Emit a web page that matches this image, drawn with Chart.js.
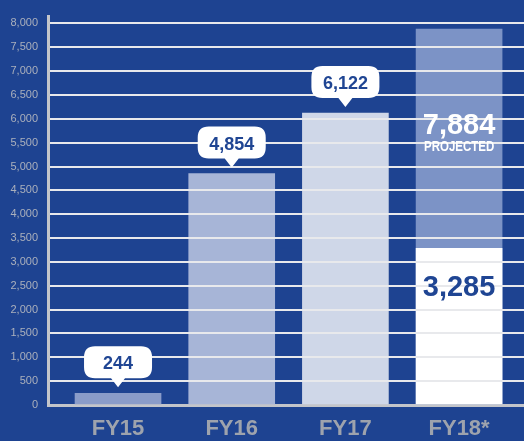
<!DOCTYPE html>
<html>
<head>
<meta charset="utf-8">
<script src="https://cdn.jsdelivr.net/npm/chart.js@4.4.0/dist/chart.umd.min.js"></script>
<style>
html, body { margin: 0; padding: 0; background: #1e4391; overflow: hidden; }
</style>
</head>
<body>
<canvas id="myBarChart" width="524" height="441"></canvas>
<script>
var years = ["FY15", "FY16", "FY17", "FY18*"];
var actual = [244, 4854, 6122, 3285];
var projected = [null, null, null, 7884];
var yTicks = [0, 500, 1000, 1500, 2000, 2500, 3000, 3500, 4000, 4500, 5000, 5500, 6000, 6500, 7000, 7500, 8000];

var barColors = ['#8a9cc9', '#a7b5d7', '#cfd7e8', '#ffffff'];
var navy = '#1f4593';
var gray = '#c3c5ca';

function fmt(v){
    return v.toLocaleString('en-US');
}

// white speech bubble with a small pointer under it
function bubble(ctx, cx, tipY, text){
    var w = 68, h = 32, r = 11, ph = 9, pw = 7;
    var x0 = cx - w / 2, x1 = cx + w / 2, y1 = tipY - ph, y0 = y1 - h;
    ctx.beginPath();
    ctx.moveTo(x0 + r, y0);
    ctx.lineTo(x1 - r, y0);
    ctx.quadraticCurveTo(x1, y0, x1, y0 + r);
    ctx.lineTo(x1, y1 - r);
    ctx.quadraticCurveTo(x1, y1, x1 - r, y1);
    ctx.lineTo(cx + pw, y1);
    ctx.lineTo(cx, tipY);
    ctx.lineTo(cx - pw, y1);
    ctx.lineTo(x0 + r, y1);
    ctx.quadraticCurveTo(x0, y1, x0, y1 - r);
    ctx.lineTo(x0, y0 + r);
    ctx.quadraticCurveTo(x0, y0, x0 + r, y0);
    ctx.closePath();
    ctx.fillStyle = '#ffffff';
    ctx.fill();
    ctx.fillStyle = navy;
    ctx.font = 'bold 18px "Liberation Sans", Arial, sans-serif';
    ctx.textAlign = 'center';
    ctx.textBaseline = 'alphabetic';
    ctx.fillText(text, cx, y1 - 9);
}

var labelPlugin = {
    id: 'labels',
    afterDraw: function(chart){
        var ctx = chart.ctx;
        var metaA = chart.getDatasetMeta(0);
        var metaP = chart.getDatasetMeta(1);
        ctx.save();
        for (var i = 0; i < actual.length; i++) {
            var bar = metaA.data[i];
            if (projected[i] == null) {
                bubble(ctx, bar.x, bar.y - 6, fmt(actual[i]));
            } else {
                var pBar = metaP.data[0];
                ctx.textAlign = 'center';
                ctx.textBaseline = 'alphabetic';
                ctx.fillStyle = '#ffffff';
                ctx.font = 'bold 29px "Liberation Sans", Arial, sans-serif';
                ctx.fillText(fmt(projected[i]), pBar.x, pBar.y + 105);
                ctx.save();
                ctx.translate(pBar.x, pBar.y + 122);
                ctx.scale(0.82, 1);
                ctx.font = 'bold 14px "Liberation Sans", Arial, sans-serif';
                ctx.fillText('PROJECTED', 0, 0);
                ctx.restore();
                ctx.fillStyle = navy;
                ctx.font = 'bold 29px "Liberation Sans", Arial, sans-serif';
                ctx.fillText(fmt(actual[i]), bar.x, bar.y + 48);
            }
        }
        ctx.restore();
    }
};

var ctx1 = document.getElementById("myBarChart");
var myBarChart = new Chart(ctx1, {
    type: 'bar',
    data: {
        datasets: [{
            label: 'Actual',
            data: actual.map(function(v, i){ return {x: i, y: v}; }),
            backgroundColor: barColors,
            barThickness: 86,
            grouped: false
        }, {
            label: 'Projected',
            data: projected.map(function(v, i){ return {x: i, y: v}; }).filter(function(p){ return p.y != null; }),
            backgroundColor: '#7c93c6',
            barThickness: 86,
            grouped: false
        }]
    },
    options: {
        responsive: false,
        animation: false,
        devicePixelRatio: 1,
        layout: { padding: { top: 8, left: 0, right: 0, bottom: 0 } },
        plugins: {
            legend: { display: false },
            tooltip: { enabled: false }
        },
        scales: {
            x: {
                type: 'linear',
                offset: false,
                min: -0.616,
                max: 3.571,
                afterBuildTicks: function(scale){
                    scale.ticks = years.map(function(y, i){ return {value: i}; });
                },
                afterFit: function(scale){ scale.height = 36; },
                grid: { display: false, drawTicks: false },
                border: { display: true, color: gray, width: 3 },
                ticks: {
                    maxRotation: 0,
                    autoSkip: false,
                    padding: 11,
                    color: '#9ea3ad',
                    font: { family: '"Liberation Sans", Arial, sans-serif', size: 22, weight: 'bold' },
                    callback: function(value){ return years[value]; }
                }
            },
            y: {
                min: 0,
                max: 8144,
                afterBuildTicks: function(scale){
                    scale.ticks = yTicks.map(function(v){ return {value: v}; });
                },
                afterFit: function(scale){ scale.width = 48; },
                grid: {
                    z: 1,
                    drawTicks: false,
                    lineWidth: 2,
                    color: function(c){ return c.tick && c.tick.value === 0 ? 'rgba(0,0,0,0)' : '#e8e9ec'; }
                },
                border: { display: true, color: gray, width: 3, z: 1 },
                ticks: {
                    padding: 10,
                    color: '#abb0bc',
                    font: { family: '"Liberation Sans", Arial, sans-serif', size: 11 },
                    callback: function(value){ return fmt(value); }
                }
            }
        }
    },
    plugins: [labelPlugin]
});
</script>
</body>
</html>
